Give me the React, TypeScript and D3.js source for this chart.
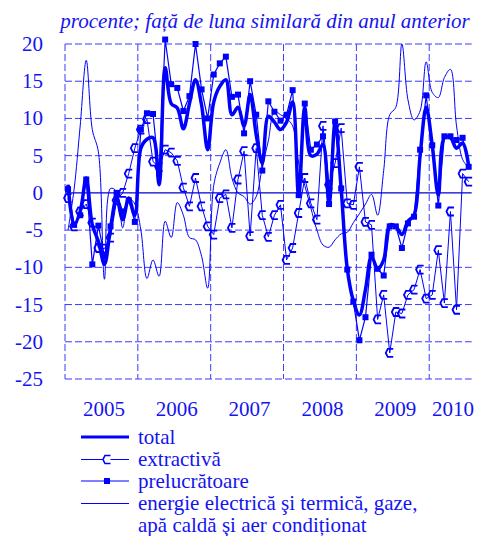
import React from 'react';
import * as d3 from 'd3';

// monthly, Jan 2005 .. Jul 2010
const years = ['2005', '2006', '2007', '2008', '2009', '2010'];
const yTicks = [20, 15, 10, 5, 0, -5, -10, -15, -20, -25];

const total = [
  1.1, -4.3, -2.5, 2, -4.3, -6.5, -9.6, -4.7, -0.7, -3.6, -0.7, -3,
  6, 7.2, 7.4, 1.1, 16.8, 12, 11.4, 8.6, 12, 15.2, 11.8, 5.8,
  12.2, 14.3, 15.2, 10.5, 11.5, 9, 13.2, 7.8, 4, 10.3, 9.5, 8.5,
  9.5, 12.2, -0.5, 11.5, 5, 5.2, 6.5, -1.5, 9.5, 0.5, -10.2, -14.5,
  -16.4, -13, -8.5, -10.2, -9, -4.3, -4.5, -5.6, -3.8, -3, 5, 11.5,
  6.4, -0.3, 7.4, 7.4, 6, 6.7, 3.6,
];

const extractiva = [
  -0.7, -4.5, -2.5, -1.5, -4, -7.4, -7.5, -6, -1, 0, 2.6, 6,
  8.5, 9.9, 4.2, 3.5, 5.8, 5.4, 4.3, 0.7, -1.8, 2, -1.8, -4.5,
  -5.6, -0.7, -0.2, -4.7, 1.8, 5.6, -5.8, 6, -3, -5.9, -3, -1.6,
  -9, -7.4, -2.7, 2, -1.4, -3.6, 9, 1.1, 4, 8.7, -1.4, -1.6,
  3.5, -3.9, -4.3, -17, -13.7, -21.5, -16, -16.2, -13.7, -13, -10.3, -14.2,
  -13.7, -7.7, -14.8, -2.5, -15.7, 2.6, 1.5,
];

const prelucratoare = [
  0.5, -4.3, -3, 1.8, -9.6, -4.4, -8.5, -4.5, 0, -2.5, -1, -3.9,
  8.5, 10.7, 10.6, 2.6, 20.6, 14.6, 14.1, 11, 13, 20, 13.9, 10,
  15.9, 17.4, 18.3, 12.9, 13.2, 8, 15, 10.5, 3, 12.3, 10.9, 9.7,
  10.5, 13.8, -0.3, 12, 5.8, 6.5, 7.6, -1.5, 9.6, 0.6, -10.3, -14.6,
  -19.8, -16.7, -8.3, -10.2, -11.1, -4.5, -4.5, -7.4, -4.1, -3.2, 5.8, 13.1,
  6.4, -1.7, 7.6, 7.6, 7.1, 7.4, 3.5,
];

const energie = [
  -5, 0.5, 9, 17.8, 8.5, 5.5, -11.6, 0.6, 0.2, -4.7, -0.7, -1.5,
  -5, -11.5, -9, -11.2, -3.8, -6, -1.3, -3, -6, -6.3, -8.5, -12.8,
  1, 4, 5.8, 2, 0, -0.5, -1.5, -0.5, 3.5, 7, 11, 10.5,
  10, 9, 4, 1, -2, -5, -7, -7.3, -6.3, -5.5, -5.3, -4,
  -2.8, -1.5, -0.2, -3, 3, 10.5, 11.5, 20, 12.5, 9.8, 11, 17.6,
  13.5, 12.8, 15.5, 16.6, 9, 4.5, 3.4,
];

const legendItems = ['total', 'extractivă', 'prelucrătoare', 'energie electrică şi termică, gaze,'];

const BLUE = '#0000ff';
const TEXT = '#1414f0';
const GRID = '#3b3bff';
const FONT = 'Liberation Serif, Times New Roman, DejaVu Serif, serif';
const FS = 21;

const W = 478;
const H = 536;

const x = d3.scaleLinear().domain([0, total.length]).range([65, 471.7]);
const y = d3.scaleLinear().domain([-25, 20]).range([379, 44]);
const px = (i: number) => x(i + 0.5);

const smooth = d3.line<number>().x((_, i) => px(i)).y(d => y(d)).curve(d3.curveCatmullRom.alpha(0.5));
const straight = d3.line<number>().x((_, i) => px(i)).y(d => y(d));

const bracket = (cx: number, cy: number) =>
  `M${cx + 3.5},${cy - 4} L${cx - 2},${cy - 4} L${cx - 4},${cy} L${cx - 2},${cy + 4} L${cx + 3.5},${cy + 4}`;

const txt = { fontFamily: FONT };

export default function App() {
  const yearEdges = d3.range(0, years.length).map(k => x(k * 12));
  const legendY = [437, 459.5, 481, 503.5];
  const legendBase = [444, 466, 488.3, 510];

  return (
    <svg width={W} height={H} viewBox={`0 0 ${W} ${H}`}
      style={{ position: 'absolute', left: 0, top: 0, background: '#fff' }}>
      <text x={265} y={28.3} textAnchor="middle" fontSize={FS} fontStyle="italic" fill={TEXT} style={txt}>
        procente; față de luna similară din anul anterior
      </text>

      {/* horizontal grid */}
      {yTicks.filter(t => t !== 0).map(t => (
        <line key={t} x1={x(0)} x2={x(total.length)} y1={y(t)} y2={y(t)}
          stroke={GRID} strokeWidth={1} strokeDasharray="7,3" />
      ))}
      {/* year separators */}
      {yearEdges.map((xv, k) => (
        <line key={k} x1={xv} x2={xv} y1={y(20)} y2={y(-25)}
          stroke={GRID} strokeWidth={1} strokeDasharray="7,3" />
      ))}
      <line x1={x(0)} x2={x(total.length)} y1={y(0)} y2={y(0)} stroke="#0000d0" strokeWidth={1.2} />

      {yTicks.map(t => (
        <text key={t} x={43} y={y(t) + 7} textAnchor="end" fontSize={FS} fill={TEXT} style={txt}>{t}</text>
      ))}
      {years.map((yr, k) => {
        const mid = k < years.length - 1 ? x(k * 12 + 6) : x((k * 12 + total.length) / 2);
        return (
          <text key={yr} x={mid + 2.5} y={415.5} textAnchor="middle" fontSize={FS} fill={TEXT} style={txt}>{yr}</text>
        );
      })}

      {/* series */}
      <path d={smooth(energie) ?? ''} fill="none" stroke={BLUE} strokeWidth={1} />
      <path d={straight(extractiva) ?? ''} fill="none" stroke={BLUE} strokeWidth={1} />
      {extractiva.map((v, i) => (
        <path key={i} d={bracket(px(i), y(v))} fill="none" stroke={BLUE} strokeWidth={1.8} />
      ))}
      <path d={straight(prelucratoare) ?? ''} fill="none" stroke={BLUE} strokeWidth={1.2} />
      {prelucratoare.map((v, i) => (
        <rect key={i} x={px(i) - 3} y={y(v) - 3} width={6} height={6} fill={BLUE} />
      ))}
      <path d={smooth(total) ?? ''} fill="none" stroke={BLUE} strokeWidth={3.5} strokeLinejoin="round" />

      {/* legend */}
      <line x1={81} x2={129} y1={legendY[0]} y2={legendY[0]} stroke={BLUE} strokeWidth={3} />
      <line x1={81} x2={129} y1={legendY[1]} y2={legendY[1]} stroke={BLUE} strokeWidth={1} />
      <path d={bracket(107, legendY[1])} fill="#fff" stroke={BLUE} strokeWidth={1.6} />
      <line x1={81} x2={129} y1={legendY[2]} y2={legendY[2]} stroke={BLUE} strokeWidth={1.2} />
      <rect x={104} y={legendY[2] - 3} width={6} height={6} fill={BLUE} />
      <line x1={81} x2={129} y1={legendY[3]} y2={legendY[3]} stroke={BLUE} strokeWidth={1} />
      {legendItems.map((t, k) => (
        <text key={t} x={138} y={legendBase[k]} fontSize={FS} fill={TEXT} style={txt}>{t}</text>
      ))}
      <text x={138} y={531.7} fontSize={FS} fill={TEXT} style={txt}>apă caldă şi aer condiționat</text>
    </svg>
  );
}
